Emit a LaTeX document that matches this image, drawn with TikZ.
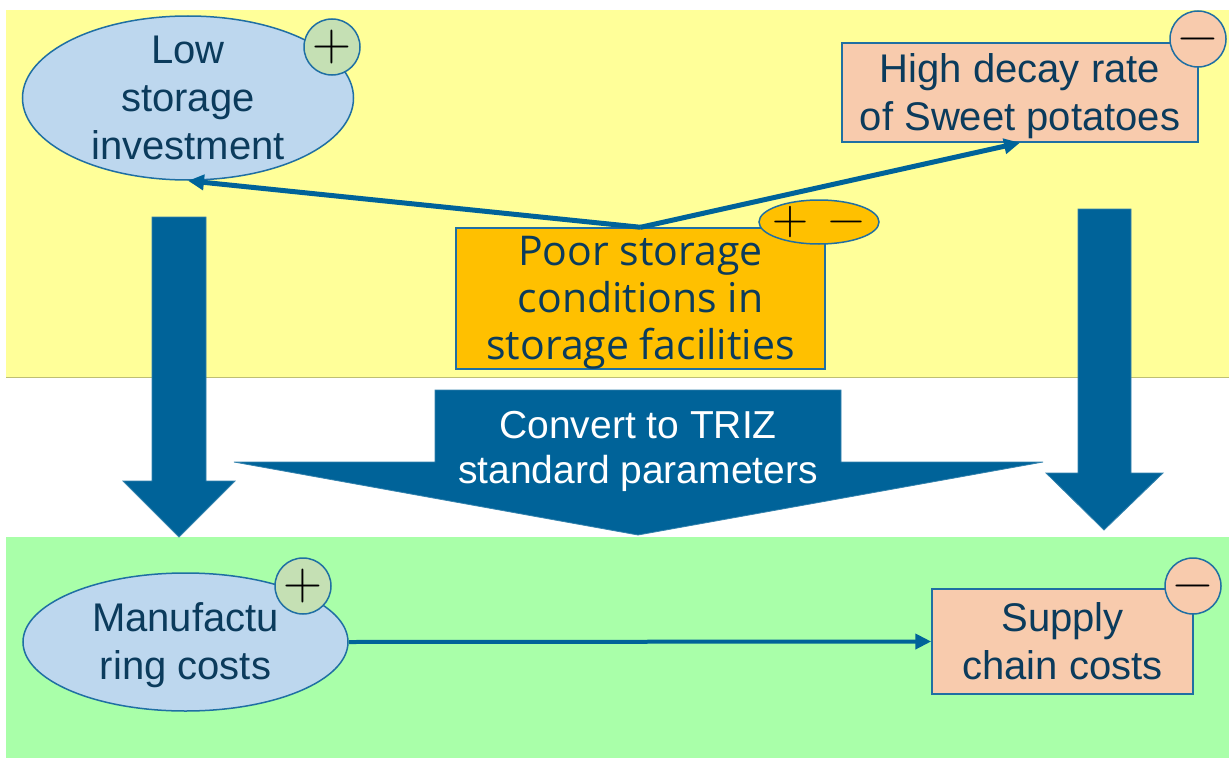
\RequirePackage{fix-cm}
\documentclass[tikz,border=0pt]{standalone}
\usepackage{fontspec}
\setsansfont{Liberation Sans}
\newfontfamily\segoe{Open Sans}
\usetikzlibrary{shapes.geometric,arrows.meta}
\definecolor{yel}{HTML}{FFFF99}
\definecolor{grn}{HTML}{A9FFA9}
\definecolor{ellfill}{HTML}{BDD7EE}
\definecolor{edge}{HTML}{1F6FA3}
\definecolor{mainblue}{HTML}{006399}
\definecolor{peach}{HTML}{F8CBAD}
\definecolor{pluscol}{HTML}{C5E0B4}
\definecolor{amber}{HTML}{FFC000}
\definecolor{txt}{HTML}{0B3B5C}
\newcommand\topst{\rule{0pt}{0.905em}}
\newcommand\botst{\rule[-0.212em]{0pt}{0pt}}
\tikzset{
  lbl/.style={font=\sffamily\fontsize{40}{48}\selectfont, text=txt, align=center, inner sep=0pt},
  ellnode/.style={ellipse, draw=edge, line width=1.5pt, fill=ellfill, inner sep=0pt},
  boxnode/.style={lbl, rectangle, draw=edge, line width=1.5pt, fill=peach},
  badge/.style={circle, draw=edge, line width=1.5pt, minimum size=56pt, inner sep=0pt},
  sign/.style={font=\rmfamily\fontsize{54}{54}\selectfont, inner sep=0pt, text=black},
  link/.style={draw=mainblue, line width=5pt, -{Triangle[length=16pt,width=15pt]}},
  bigarrow/.style={fill=mainblue, draw=mainblue!80!white, line width=0.8pt}
}
\begin{document}
\begin{tikzpicture}[x=1pt,y=-1pt]
\useasboundingbox (0,0) rectangle (1229,760);
% bands
\fill[yel] (6,10) rectangle (1229,377);
\draw[yel!75!black, line width=0.8pt] (6,377) -- (1229,377);
\fill[grn] (6,537) rectangle (1229,758);
% big arrows
\draw[bigarrow] (152,217) -- (206,217) -- (206,481) -- (235,481) -- (179,537) -- (123,481) -- (152,481) -- cycle;
\draw[bigarrow] (1078,209) -- (1131,209) -- (1131,473) -- (1163,473) -- (1104,530) -- (1046,473) -- (1078,473) -- cycle;
\draw[bigarrow] (435,390) -- (841,390) -- (841,462) -- (1043,462) -- (638,535) -- (234,462) -- (435,462) -- cycle;
\node[font=\sffamily\fontsize{39}{45}\selectfont, text=white, align=center, inner sep=0pt] (conv) at (638,451) {Convert to TRIZ\\standard parameters};
% top nodes
\node[ellnode, minimum width=331pt, minimum height=164pt] (low) at (188,98) {};
\node[lbl] (lowtxt) at (low.center) {\topst Low\\storage\\investment\botst};
\node[badge, fill=pluscol] (lowb) at (332,47) {};
\node[sign] at (lowb.center) {+};
\node[boxnode, minimum width=356pt, minimum height=99pt] (high) at (1020,92.5) {\topst High decay rate\\of Sweet potatoes\botst};
\node[badge, fill=peach] (highb) at (1198,39) {};
\node[sign] at (highb.center) {\vphantom{+}−};
\node[rectangle, draw=edge, line width=1.5pt, fill=amber, minimum width=369pt, minimum height=137pt, inner sep=0pt, align=center, text=txt, font=\segoe\fontsize{41}{47}\selectfont] (poor) at (640.5,298.5) {\topst Poor storage\\conditions in\\storage facilities\botst};
\node[ellipse, draw=edge, line width=1.5pt, fill=amber, minimum width=120pt, minimum height=44pt, inner sep=0pt] (pm) at (819,222) {};
\node[sign, font=\rmfamily\fontsize{50}{50}\selectfont] (pmp) at (790,222) {+};
\node[sign, font=\rmfamily\fontsize{50}{50}\selectfont] (pmm) at (846,222) {\vphantom{+}−};
% bottom nodes
\node[ellnode, minimum width=325pt, minimum height=138pt] (manu) at (185.5,642) {};
\node[lbl] (manutxt) at (manu.center) {\topst Manufactu\\ring costs\botst};
\node[badge, fill=pluscol] (manub) at (303,586) {};
\node[sign] at (manub.center) {+};
\node[boxnode, minimum width=261pt, minimum height=105pt] (supply) at (1062.5,641.5) {\topst Supply\\chain costs\botst};
\node[badge, fill=peach] (supplyb) at (1193,586) {};
\node[sign] at (supplyb.center) {\vphantom{+}−};
% connectors
\draw[link] (poor.north) -- (low.south);
\draw[link] (poor.north) -- (high.south);
\draw[link, line width=4pt] (manu.east) -- (supply.west);
\end{tikzpicture}
\end{document}
